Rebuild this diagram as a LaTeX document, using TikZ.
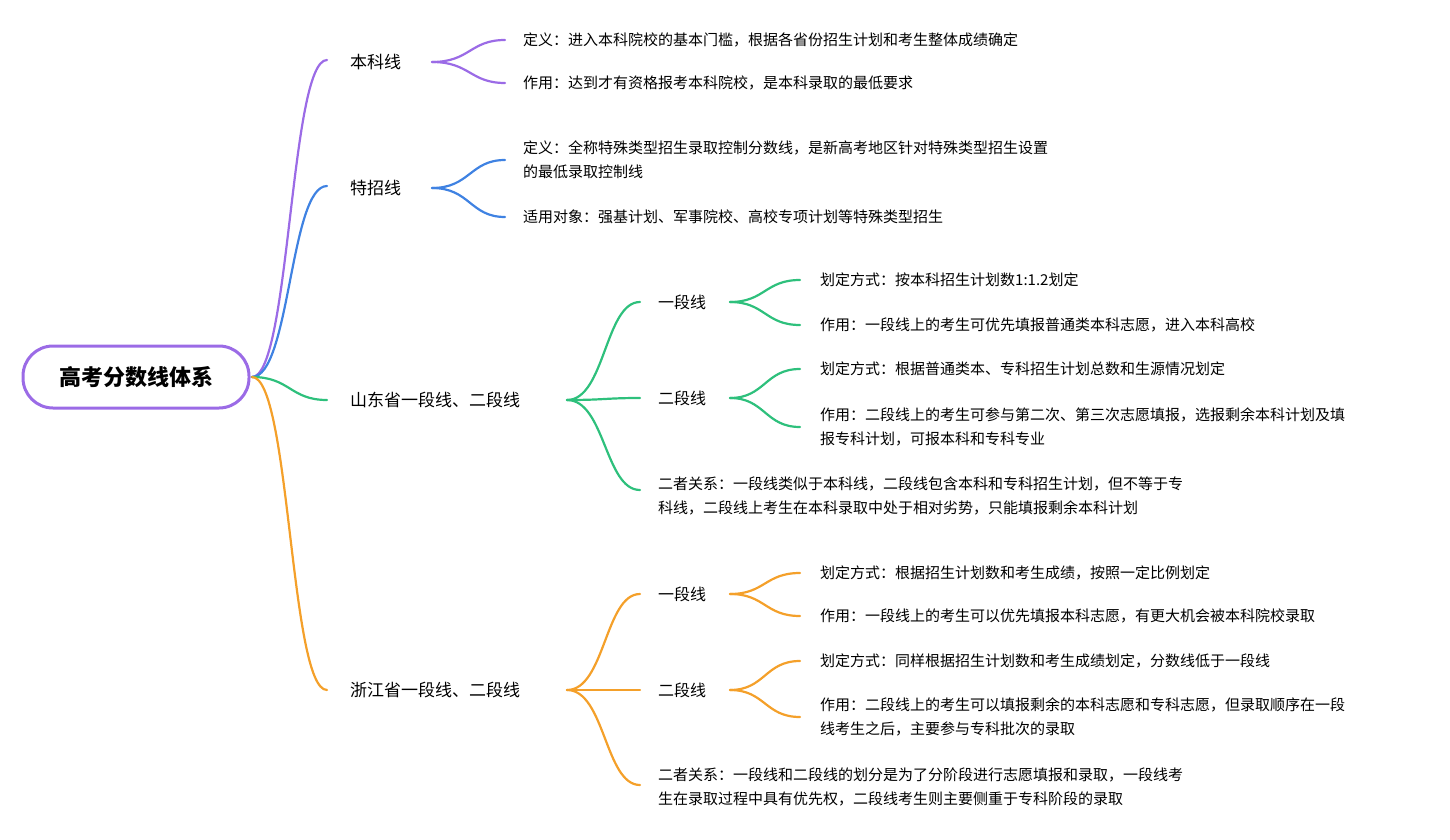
\documentclass[tikz,border=0pt]{standalone}
\usepackage{fontspec}
\setmainfont{Noto Sans CJK SC}
\begin{document}
\begin{tikzpicture}[x=1pt,y=-1pt,
  txt/.style={anchor=west,inner sep=0pt,font=\fontsize{15}{24}\selectfont,align=left},
  lab/.style={anchor=west,inner sep=0pt,font=\fontsize{17}{22}\selectfont},
  br/.style={line width=2.2pt,line cap=round}]
\useasboundingbox (0,0) rectangle (1450,840);
\definecolor{cpu}{HTML}{9B6BE6}
\definecolor{cbl}{HTML}{3F82E2}
\definecolor{cgr}{HTML}{2EC07C}
\definecolor{cor}{HTML}{F4A02A}
\node[draw=cpu,line width=3pt,rounded corners=30pt,minimum width=226pt,minimum height=62pt,font=\fontsize{22}{26}\selectfont\bfseries] (root) at (136,377) {高考分数线体系};
\coordinate (r) at (252,377);
% level 1
\node[lab] (bk) at (350,62) {本科线};
\node[lab] (tz) at (350,188) {特招线};
\node[lab] (sd) at (350,400) {山东省一段线、二段线};
\node[lab] (zj) at (350,690) {浙江省一段线、二段线};
\coordinate (bkA) at (327,60); \coordinate (tzA) at (327,186);
\coordinate (sdA) at (327,400); \coordinate (zjA) at (327,690);
\draw[br,cpu] (r) .. controls (290,377) and (290,60) .. (bkA);
\draw[br,cbl] (r) .. controls (290,377) and (290,186) .. (tzA);
\draw[br,cgr] (r) .. controls (290,377) and (290,400) .. (sdA);
\draw[br,cor] (r) .. controls (290,377) and (290,690) .. (zjA);
% generic branch macro
\newcommand{\branch}[4]{\draw[br,#1] (#2) .. controls ($(#2)+(35,0)$) and ($(#3)+(-35,0)$) .. (#3);}
% 本科线
\coordinate (bkS) at (432,62);
\node[txt] (bk1) at (523,40) {定义：进入本科院校的基本门槛，根据各省份招生计划和考生整体成绩确定};
\node[txt] (bk2) at (523,83) {作用：达到才有资格报考本科院校，是本科录取的最低要求};
\coordinate (bk1A) at (505,40); \coordinate (bk2A) at (505,83);
\draw[br,cpu] (bkS) .. controls (470,62) and (470,40) .. (bk1A);
\draw[br,cpu] (bkS) .. controls (470,62) and (470,83) .. (bk2A);
% 特招线
\coordinate (tzS) at (432,188);
\node[txt] (tz1) at (523,160) {定义：全称特殊类型招生录取控制分数线，是新高考地区针对特殊类型招生设置\\的最低录取控制线};
\node[txt] (tz2) at (523,217) {适用对象：强基计划、军事院校、高校专项计划等特殊类型招生};
\coordinate (tz1A) at (505,160); \coordinate (tz2A) at (505,217);
\draw[br,cbl] (tzS) .. controls (470,188) and (470,160) .. (tz1A);
\draw[br,cbl] (tzS) .. controls (470,188) and (470,217) .. (tz2A);
% 山东
\coordinate (sdS) at (567,400);
\node[lab,font=\fontsize{16}{20}\selectfont] (sd1) at (658,302) {一段线};
\node[lab,font=\fontsize{16}{20}\selectfont] (sd2) at (658,398) {二段线};
\node[txt] (sd3) at (658,496) {二者关系：一段线类似于本科线，二段线包含本科和专科招生计划，但不等于专\\科线，二段线上考生在本科录取中处于相对劣势，只能填报剩余本科计划};
\coordinate (sd1A) at (640,302); \coordinate (sd2A) at (640,398); \coordinate (sd3A) at (640,490);
\draw[br,cgr] (sdS) .. controls (605,400) and (605,302) .. (sd1A);
\draw[br,cgr] (sdS) .. controls (605,400) and (605,398) .. (sd2A);
\draw[br,cgr] (sdS) .. controls (605,400) and (605,490) .. (sd3A);
\coordinate (sd1S) at (730,302);
\node[txt] (sd11) at (820,280) {划定方式：按本科招生计划数1:1.2划定};
\node[txt] (sd12) at (820,325) {作用：一段线上的考生可优先填报普通类本科志愿，进入本科高校};
\coordinate (sd11A) at (800,280); \coordinate (sd12A) at (800,325);
\draw[br,cgr] (sd1S) .. controls (765,302) and (765,280) .. (sd11A);
\draw[br,cgr] (sd1S) .. controls (765,302) and (765,325) .. (sd12A);
\coordinate (sd2S) at (730,398);
\node[txt] (sd21) at (820,369) {划定方式：根据普通类本、专科招生计划总数和生源情况划定};
\node[txt] (sd22) at (820,427) {作用：二段线上的考生可参与第二次、第三次志愿填报，选报剩余本科计划及填\\报专科计划，可报本科和专科专业};
\coordinate (sd21A) at (800,369); \coordinate (sd22A) at (800,427);
\draw[br,cgr] (sd2S) .. controls (765,398) and (765,369) .. (sd21A);
\draw[br,cgr] (sd2S) .. controls (765,398) and (765,427) .. (sd22A);
% 浙江
\coordinate (zjS) at (567,690);
\node[lab,font=\fontsize{16}{20}\selectfont] (zj1) at (658,594) {一段线};
\node[lab,font=\fontsize{16}{20}\selectfont] (zj2) at (658,690) {二段线};
\node[txt] (zj3) at (658,787) {二者关系：一段线和二段线的划分是为了分阶段进行志愿填报和录取，一段线考\\生在录取过程中具有优先权，二段线考生则主要侧重于专科阶段的录取};
\coordinate (zj1A) at (640,594); \coordinate (zj2A) at (640,690); \coordinate (zj3A) at (640,785);
\draw[br,cor] (zjS) .. controls (605,690) and (605,594) .. (zj1A);
\draw[br,cor] (zjS) .. controls (605,690) and (605,690) .. (zj2A);
\draw[br,cor] (zjS) .. controls (605,690) and (605,785) .. (zj3A);
\coordinate (zj1S) at (730,594);
\node[txt] (zj11) at (820,573) {划定方式：根据招生计划数和考生成绩，按照一定比例划定};
\node[txt] (zj12) at (820,616) {作用：一段线上的考生可以优先填报本科志愿，有更大机会被本科院校录取};
\coordinate (zj11A) at (800,573); \coordinate (zj12A) at (800,616);
\draw[br,cor] (zj1S) .. controls (765,594) and (765,573) .. (zj11A);
\draw[br,cor] (zj1S) .. controls (765,594) and (765,616) .. (zj12A);
\coordinate (zj2S) at (730,690);
\node[txt] (zj21) at (820,661) {划定方式：同样根据招生计划数和考生成绩划定，分数线低于一段线};
\node[txt] (zj22) at (820,717) {作用：二段线上的考生可以填报剩余的本科志愿和专科志愿，但录取顺序在一段\\线考生之后，主要参与专科批次的录取};
\coordinate (zj21A) at (800,661); \coordinate (zj22A) at (800,717);
\draw[br,cor] (zj2S) .. controls (765,690) and (765,661) .. (zj21A);
\draw[br,cor] (zj2S) .. controls (765,690) and (765,717) .. (zj22A);
\end{tikzpicture}
\end{document}
